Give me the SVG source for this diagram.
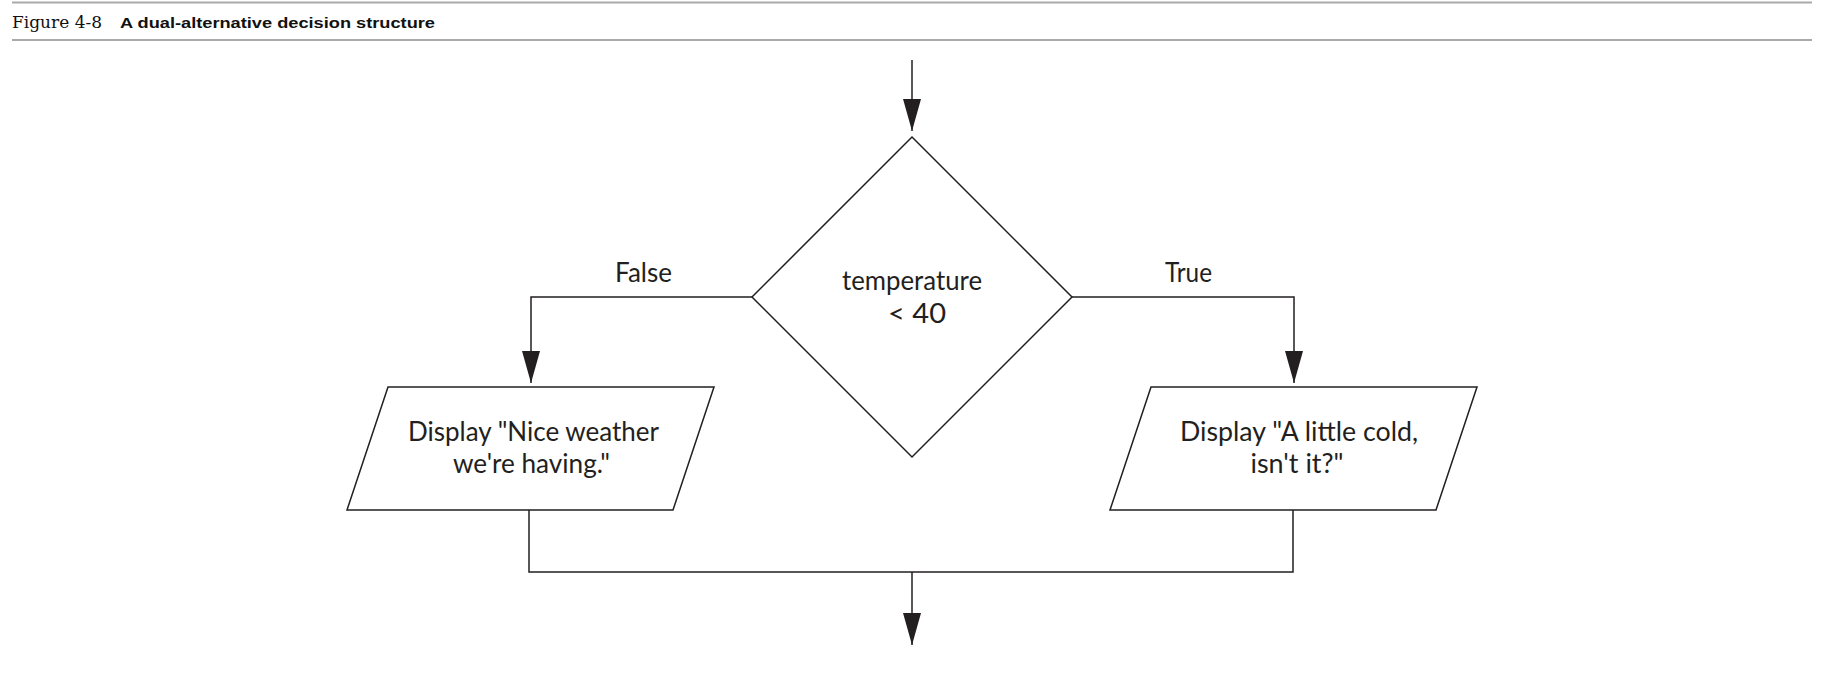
<svg xmlns="http://www.w3.org/2000/svg" width="1842" height="696" viewBox="0 0 1842 696">
  <style>
    .rule { stroke: #aaaaaa; stroke-width: 2; fill: none; }
    .shape { fill: #ffffff; stroke: #231f20; stroke-width: 1.5; }
    .conn { fill: none; stroke: #231f20; stroke-width: 1.5; }
    .lbl { font-family: Lato, "Open Sans", "DejaVu Sans", sans-serif; font-size: 26px; fill: #231f20; text-anchor: middle; }
    .fig { font-family: "DejaVu Serif", "Liberation Serif", serif; font-size: 17px; fill: #111111; }
    .cap { font-family: "Liberation Sans", Arial, sans-serif; font-weight: bold; font-size: 15.5px; fill: #111111; }
  </style>
  <defs>
    <marker id="arrow" viewBox="0 0 32 18" refX="32" refY="9" markerWidth="32" markerHeight="18" markerUnits="userSpaceOnUse" orient="auto">
      <path d="M0,0 L32,9 L0,18 z" fill="#231f20"/>
    </marker>
  </defs>

  <g id="header">
    <line class="rule" x1="12" y1="2.5" x2="1812" y2="2.5"/>
    <line class="rule" x1="12" y1="40" x2="1812" y2="40"/>
    <text class="fig" x="12" y="28" textLength="90" lengthAdjust="spacingAndGlyphs">Figure 4-8</text>
    <text class="cap" x="120" y="28" textLength="315" lengthAdjust="spacingAndGlyphs">A dual-alternative decision structure</text>
  </g>

  <g id="connectors">
    <path class="conn" d="M912,60 V131" marker-end="url(#arrow)"/>
    <path class="conn" d="M752,297 H531 V383" marker-end="url(#arrow)"/>
    <path class="conn" d="M1072,297 H1294 V383" marker-end="url(#arrow)"/>
    <path class="conn" d="M529,510 V572 H1293 V510"/>
    <path class="conn" d="M912,572 V645" marker-end="url(#arrow)"/>
    <text class="lbl" x="643.5" y="282" textLength="57" lengthAdjust="spacingAndGlyphs">False</text>
    <text class="lbl" x="1188.5" y="282" textLength="47" lengthAdjust="spacingAndGlyphs">True</text>
  </g>

  <g id="decision">
    <polygon class="shape" points="912,137 1072,297 912,457 752,297"/>
    <text class="lbl" x="912" y="290" textLength="140" lengthAdjust="spacingAndGlyphs">temperature</text>
    <text class="lbl" x="917" y="323" textLength="58" lengthAdjust="spacingAndGlyphs">&lt; 40</text>
  </g>

  <g id="display-false">
    <polygon class="shape" points="388,387 714,387 673,510 347,510"/>
    <text class="lbl" x="533.5" y="441" textLength="251" lengthAdjust="spacingAndGlyphs">Display "Nice weather</text>
    <text class="lbl" x="531.5" y="473" textLength="157" lengthAdjust="spacingAndGlyphs">we're having."</text>
  </g>

  <g id="display-true">
    <polygon class="shape" points="1151,387 1477,387 1436,510 1110,510"/>
    <text class="lbl" x="1299" y="441" textLength="238" lengthAdjust="spacingAndGlyphs">Display "A little cold,</text>
    <text class="lbl" x="1297" y="473" textLength="93" lengthAdjust="spacingAndGlyphs">isn't it?"</text>
  </g>
</svg>
